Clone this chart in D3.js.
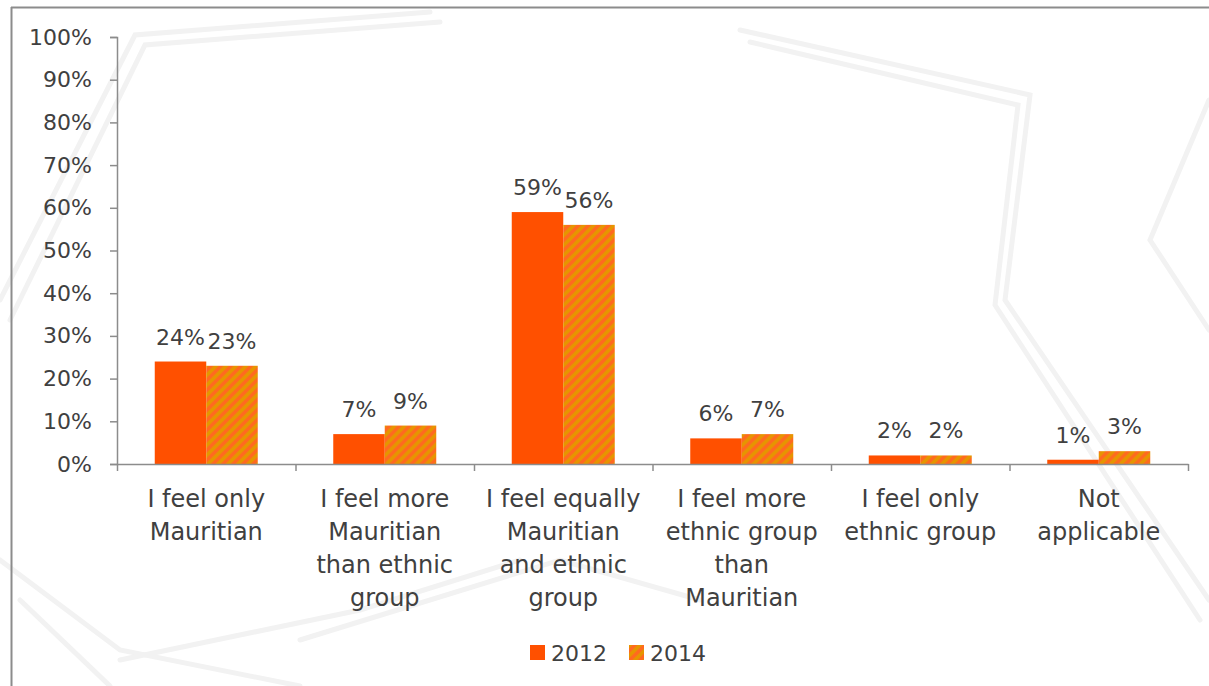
<!DOCTYPE html>
<html><head><meta charset="utf-8">
<script src="https://cdn.jsdelivr.net/npm/d3@7"></script>
<style>
html,body{margin:0;padding:0;background:#fff;}
svg{display:block;}
</style></head>
<body>
<svg id="c" width="1209" height="686"></svg>
<script>
const categories = [
  ["I feel only", "Mauritian"],
  ["I feel more", "Mauritian", "than ethnic", "group"],
  ["I feel equally", "Mauritian", "and ethnic", "group"],
  ["I feel more", "ethnic group", "than", "Mauritian"],
  ["I feel only", "ethnic group"],
  ["Not", "applicable"]
];
const seriesNames = ["2012", "2014"];
const values2012 = [0.24, 0.07, 0.59, 0.06, 0.02, 0.01];
const values2014 = [0.23, 0.09, 0.56, 0.07, 0.02, 0.03];
const yTicks = [0, 0.1, 0.2, 0.3, 0.4, 0.5, 0.6, 0.7, 0.8, 0.9, 1.0];

(function(){
const svg = d3.select("#c");
const W = 1209, H = 686;
const textColor = "#404040";
const axisColor = "#8c8c8c";
const font = "'DejaVu Sans', sans-serif";

// pattern
const defs = svg.append("defs");
const P = 10;
const pat = defs.append("pattern").attr("id","hatch").attr("patternUnits","userSpaceOnUse")
  .attr("width",P).attr("height",P);
pat.append("rect").attr("width",P).attr("height",P).attr("fill","#E69500");
pat.append("path").attr("d",`M-3,3 L3,-3 M0,${P} L${P},0 M${P-3},${P+3} L${P+3},${P-3}`)
  .attr("stroke","#FF6A1F").attr("stroke-width",3.4);

// faint background decoration
const deco = svg.append("g").attr("fill","none").attr("stroke","#f2f2f2").attr("stroke-linecap","round");
const decoPaths = [
  "M0,300 L135,35 L430,12",
  "M10,320 L145,45 L440,22",
  "M740,30 L1030,95 L1005,300 L1209,600",
  "M750,42 L1018,105 L995,305 L1200,620",
  "M1209,100 L1150,240 L1209,330",
  "M0,560 L120,650 L300,686",
  "M20,600 L110,686",
  "M300,640 L560,560 L700,600",
  "M120,660 L360,610 L520,560"
];
deco.selectAll("path").data(decoPaths).join("path").attr("d", d=>d)
  .attr("stroke-width",5);

// frame
svg.append("line").attr("x1",11).attr("x2",W).attr("y1",7.5).attr("y2",7.5)
  .attr("stroke",axisColor).attr("stroke-width",2);
svg.append("line").attr("x1",11.5).attr("x2",11.5).attr("y1",7).attr("y2",H)
  .attr("stroke",axisColor).attr("stroke-width",2);

const mLeft = 117, mRight = 1188, mTop = 37, mBottom = 464;
const x = d3.scaleBand().domain(d3.range(categories.length)).range([mLeft,mRight]).paddingInner(0).paddingOuter(0);
const x1 = d3.scaleBand().domain(seriesNames).range([0,x.bandwidth()]).paddingInner(0).paddingOuter(0.733);
const y = d3.scaleLinear().domain([0,1]).range([mBottom,mTop]);

// bars
const data = categories.map((c,i)=>({i, vals:[{s:"2012",v:values2012[i]},{s:"2014",v:values2014[i]}]}));
const g = svg.append("g");
const groups = g.selectAll("g.cat").data(data).join("g").attr("class","cat")
  .attr("transform", d=>`translate(${x(d.i)},0)`);
groups.selectAll("rect").data(d=>d.vals).join("rect")
  .attr("x", d=>x1(d.s)).attr("width", x1.bandwidth())
  .attr("y", d=>y(d.v)).attr("height", d=>y(0)-y(d.v))
  .attr("fill", d=>d.s==="2012" ? "#FF5000" : "url(#hatch)");
groups.selectAll("text").data(d=>d.vals).join("text")
  .attr("x", d=>x1(d.s)+x1.bandwidth()/2).attr("y", d=>y(d.v)-17)
  .attr("text-anchor","middle").attr("font-family",font).attr("font-size",22)
  .attr("fill",textColor).text(d=>Math.round(d.v*100)+"%");

// y axis
const yAxis = d3.axisLeft(y).tickValues(yTicks).tickSize(7).tickSizeOuter(7).tickPadding(18)
  .tickFormat(d=>Math.round(d*100)+"%");
const ya = svg.append("g").attr("transform",`translate(${mLeft},0)`).call(yAxis);
ya.select(".domain").attr("stroke",axisColor).attr("stroke-width",1.5);
ya.selectAll(".tick line").attr("stroke",axisColor).attr("stroke-width",1.5);
ya.selectAll(".tick text").attr("font-family",font).attr("font-size",22).attr("fill",textColor);

// x axis (category boundaries)
const xb = d3.scaleLinear().domain([0,categories.length]).range([mLeft,mRight]);
const xAxis = d3.axisBottom(xb).tickValues(d3.range(categories.length+1)).tickSize(7).tickSizeOuter(0).tickFormat("");
const xa = svg.append("g").attr("transform",`translate(0,${mBottom})`).call(xAxis);
xa.select(".domain").attr("stroke",axisColor).attr("stroke-width",1.5);
xa.selectAll(".tick line").attr("stroke",axisColor).attr("stroke-width",1.5);

// category labels
const lab = svg.append("g").attr("font-family",font).attr("font-size",24).attr("fill",textColor).attr("text-anchor","middle");
categories.forEach((lines,i)=>{
  const t = lab.append("text").attr("x", x(i)+x.bandwidth()/2).attr("y", 507);
  lines.forEach((ln,k)=>{
    t.append("tspan").attr("x", x(i)+x.bandwidth()/2).attr("dy", k===0?0:33).text(ln);
  });
});

// legend
const leg = svg.append("g");
const legItems = [{s:"2012", x:530, fill:"#FF5000"},{s:"2014", x:629, fill:"url(#hatch)"}];
legItems.forEach(it=>{
  leg.append("rect").attr("x",it.x).attr("y",645).attr("width",15).attr("height",15).attr("fill",it.fill);
  leg.append("text").attr("x",it.x+21).attr("y",661).attr("font-family",font).attr("font-size",22)
    .attr("fill",textColor).text(it.s);
});
})();
</script>
</body></html>
